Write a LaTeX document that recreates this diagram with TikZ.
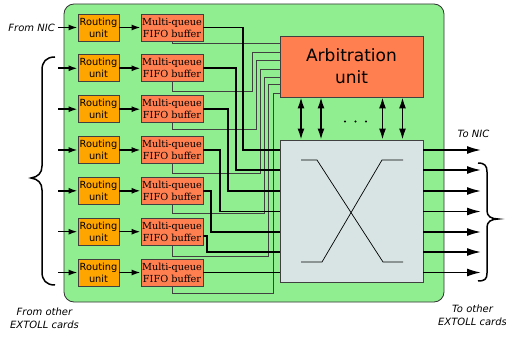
\documentclass[tikz,border=0pt]{standalone}
\usepackage{fontspec}
\setmainfont{DejaVu Sans}
\newfontfamily\fifofont{DejaVu Serif}
\usetikzlibrary{arrows.meta}
\definecolor{bggreen}{HTML}{90EE90}
\definecolor{routeor}{HTML}{FFA500}
\definecolor{coralc}{HTML}{FF7F50}
\definecolor{xbarc}{HTML}{D8E4E4}
\begin{document}
\begin{tikzpicture}[x=1pt,y=-1pt,
 rbox/.style={draw=black!75,line width=0.8pt,fill=routeor,minimum width=41pt,minimum height=27pt,inner sep=0pt,align=center,font=\fontsize{9.8}{12}\selectfont},
 fbox/.style={draw=black!75,line width=0.8pt,fill=coralc,minimum width=62pt,minimum height=27pt,inner sep=0pt,align=center,font=\fontsize{9.7}{12}\fifofont},
 bigbox/.style={draw=black!75,line width=0.8pt,minimum width=143pt,inner sep=0pt,align=center},
 data/.style={line width=1.6pt},
 ctrl/.style={line width=1pt,black!75},
 inarr/.style={line width=1.6pt,-{Latex[length=9pt,width=6pt]}},
 outarr/.style={line width=1.6pt,-{Latex[length=14pt,width=8pt]}},
 darr/.style={line width=1.6pt,{Latex[length=11pt,width=7pt]}-{Latex[length=11pt,width=7pt]}},
 lbl/.style={font=\fontsize{10}{13}\selectfont\itshape,align=center,inner sep=0pt},
 brace/.style={line width=1.5pt}
]
\useasboundingbox (0,0) rectangle (506,339);
\node[draw=black!80,line width=0.8pt,fill=bggreen,rounded corners=10pt,minimum width=380pt,minimum height=298pt,inner sep=0pt] (card) at (254,153) {};

% arbitration and crossbar
\node[bigbox,fill=coralc,minimum height=61pt,font=\fontsize{17}{22}\selectfont] (arb) at (351.5,66.5) {Arbitration\\unit};
\node[bigbox,fill=xbarc,minimum height=142pt] (xb) at (351.5,211) {};
\draw[line width=0.7pt] (301,160) -- (317,160) -- (383,262) -- (403,262);
\draw[line width=0.7pt] (301,262) -- (322,262) -- (382,160) -- (403,160);

% rows
\foreach \i/\y in {1/27.5,2/68.3,3/109.2,4/150,5/190.8,6/231.7,7/272.5} {
  \node[rbox] (r\i) at (98.5,\y) {Routing\\unit};
  \node[fbox] (f\i) at (172,\y) {Multi-queue\\FIFO buffer};
  \coordinate (s\i) at (58,\y);
  \draw[inarr] (s\i) -- (r\i);
  \draw[inarr] (r\i) -- (f\i);
}

% crossbar ports
\foreach \i/\y in {1/150,2/170,3/191,4/211.5,5/232,6/252,7/272.5} {
  \coordinate (in\i) at (280,\y);
  \coordinate (out\i) at (481,\y);
  \draw[outarr] (xb.east |- in\i) -- (out\i);
}

% arbitration ports
\foreach \i/\y in {1/44,2/52.7,3/61,4/69.3,5/77.3,6/85,7/93.3} {
  \coordinate (a\i) at (280,\y);
}

% control lines
\draw[ctrl] (f1.south) |- (a1);
\draw[ctrl] (f2.south) |- (252,92) |- (a2);
\draw[ctrl] (f3.south) |- (256,130) |- (a3);
\draw[ctrl] (f4.south) |- (260,174) |- (a4);
\draw[ctrl] (f5.south) |- (264,214) |- (a5);
\draw[ctrl] (f6.south) |- (268,256.7) |- (a6);
\draw[ctrl] (f7.south) |- (273,293) |- (a7);

% data lines
\draw[data] (f1.east) -| (243,150) -- (in1);
\draw[data] (f2.east) -| (236,170) -- (in2);
\draw[data] (f3.east) -| (228,191) -- (in3);
\draw[data] (f4.east) -| (220,211.5) -- (in4);
\draw[data] (f5.east) -| (211,232) -- (in5);
\draw[data] ([yshift=-4.3pt]f6.east) -| (207,252) -- (in6);
\draw[data] (f7.east) -- (in7);

% arb <-> crossbar
\foreach \x in {301,321,382.5,402.5}
  \draw[darr] (arb.south -| \x,0) -- (xb.north -| \x,0);
\foreach \x in {345,355.5,366}
  \fill (\x,121.5) circle (1.2pt);

% labels
\node[lbl,anchor=east] (nic) at (55,28) {From NIC};
\node[lbl] (fo) at (44.5,318.5) {From other\\EXTOLL cards};
\node[lbl] (tn) at (473.5,134) {To NIC};
\node[lbl] (to) at (472.5,315) {To other\\EXTOLL cards};

% braces
\draw[brace] (55,57) .. controls (46,57) and (42,62) .. (42,70) -- (42,166)
  .. controls (42,173) and (38,177) .. (31,178)
  .. controls (38,179) and (42,183) .. (42,190) -- (42,272)
  .. controls (42,280) and (46,285) .. (55,285);
\draw[brace] (478,163) .. controls (485,163) and (487,166) .. (487,172) -- (487,211)
  .. controls (487,216) and (491,219) .. (498,219)
  .. controls (491,219) and (487,222) .. (487,227) -- (487,273)
  .. controls (487,279) and (485,281) .. (478,281);
\end{tikzpicture}
\end{document}
